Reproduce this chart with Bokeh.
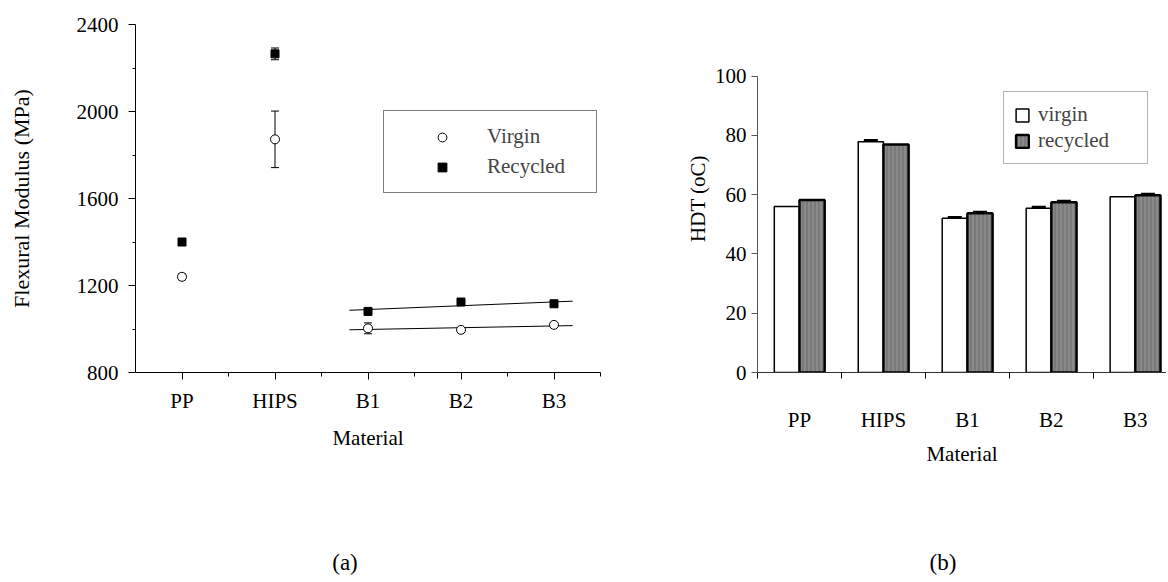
import numpy as np
from bokeh.plotting import figure
from bokeh.models import (ColumnDataSource, Whisker, TeeHead, Legend, LegendItem,
                          FixedTicker, Range1d, Div, Spacer)
from bokeh.layouts import row, column
from bokeh.embed import file_html
from bokeh.resources import INLINE

# ---------------- data ----------------
materials = ["PP", "HIPS", "B1", "B2", "B3"]
captions = ["(a)", "(b)"]

# (a) Flexural modulus (MPa)
flex_virgin = [1240, 1872, 1003, 996, 1019]
flex_virgin_err = [14, 130, 25, 0, 0]
flex_recycled = [1400, 2265, 1081, 1124, 1116]
flex_recycled_err = [0, 27, 0, 0, 0]
flex_ticks = [800, 1200, 1600, 2000, 2400]

# (b) HDT (oC)
hdt_virgin = [56.0, 77.8, 52.0, 55.4, 59.3]
hdt_virgin_err = [0, 0.5, 0.4, 0.4, 0]
hdt_recycled = [58.2, 76.9, 53.7, 57.4, 59.8]
hdt_recycled_err = [0, 0, 0.4, 0.4, 0.4]
hdt_ticks = [0, 20, 40, 60, 80, 100]

# ---------------- layout constants (pixels) ----------------
FONT = "Liberation Serif"
FIG_H = 550
TOP = 24            # frame top
FRAME_H = 348       # frame height (both panels share it)
BOTTOM = FIG_H - TOP - FRAME_H
W1, L1, FW1 = 640, 135, 465          # left figure width, left border, frame width
W2, L2 = 526, 117                    # right figure width, left border
FW2 = W2 - L2
CAT_PX2 = 83.96                      # px per category in panel (b)
HDT_AXIS_PX = 296.5                  # px length of the 0..100 axis in panel (b)
CAP_H = 28
CAP_W = 100
CAP_CX = [345, 943]                  # caption centres

idx = list(range(len(materials)))


def style_axes(p, size_ticks, size_label):
    for ax in (p.xaxis[0], p.yaxis[0]):
        ax.major_label_text_font = FONT
        ax.major_label_text_font_size = size_ticks
        ax.major_label_text_color = "black"
        ax.axis_label_text_font = FONT
        ax.axis_label_text_font_size = size_label
        ax.axis_label_text_font_style = "normal"
        ax.axis_label_text_color = "black"
        ax.axis_line_color = "black"
        ax.major_tick_line_color = "black"
        ax.minor_tick_line_color = "black"
        ax.major_tick_in = 0
        ax.minor_tick_in = 0
    p.grid.visible = False
    p.outline_line_color = None
    p.background_fill_color = "white"
    p.border_fill_color = "white"


# ---------------- (a) ----------------
x1_lo, x1_hi = -0.5, 4.5
p1 = figure(width=W1, height=FIG_H, x_range=Range1d(x1_lo, x1_hi),
            y_range=Range1d(flex_ticks[0], flex_ticks[-1]),
            output_backend="svg", toolbar_location=None,
            min_border_left=L1, min_border_right=W1 - L1 - FW1,
            min_border_top=TOP, min_border_bottom=BOTTOM)
style_axes(p1, "21px", "21px")
p1.xaxis.ticker = FixedTicker(ticks=idx, minor_ticks=[i + 0.5 for i in idx])
p1.xaxis.major_label_overrides = {i: m for i, m in enumerate(materials)}
p1.xaxis.axis_label = "Material"
p1.xaxis.major_tick_out = 7
p1.xaxis.minor_tick_out = 4
p1.xaxis.major_label_standoff = 9
p1.xaxis.axis_label_standoff = 10
mid = [(a + b) / 2 for a, b in zip(flex_ticks[:-1], flex_ticks[1:])]
p1.yaxis.ticker = FixedTicker(ticks=flex_ticks, minor_ticks=mid)
p1.yaxis.axis_label = "Flexural Modulus (MPa)"
p1.yaxis.axis_label_text_font_size = "22px"
p1.yaxis.major_tick_out = 7
p1.yaxis.minor_tick_out = 3
p1.yaxis.major_label_standoff = 10
p1.yaxis.axis_label_standoff = 40


def err_source(vals, errs, off=0.0):
    xs = [i for i, e in zip(idx, errs) if e > 0]
    return ColumnDataSource(dict(
        x=[i + off for i in xs],
        upper=[vals[i] + errs[i] for i in xs],
        lower=[vals[i] - errs[i] for i in xs]))


for vals, errs in ((flex_virgin, flex_virgin_err), (flex_recycled, flex_recycled_err)):
    w = Whisker(base="x", upper="upper", lower="lower", source=err_source(vals, errs),
                line_color="black", line_width=1, level="underlay",
                upper_head=TeeHead(size=8, line_color="black", line_width=1),
                lower_head=TeeHead(size=8, line_color="black", line_width=1))
    p1.add_layout(w)

# linear trend lines over the blends B1..B3
blend_x = np.array(idx[2:], dtype=float)
TREND_EXT = 0.2
tx = [blend_x[0] - TREND_EXT, blend_x[-1] + TREND_EXT]
for vals in (flex_recycled, flex_virgin):
    k, b = np.polyfit(blend_x, np.array(vals[2:], dtype=float), 1)
    p1.line(tx, [k * t + b for t in tx], line_color="black", line_width=1)

rv = p1.scatter(idx, flex_virgin, marker="circle", size=9, fill_color="white",
                line_color="black", line_width=1)
rr = p1.scatter(idx, flex_recycled, marker="square", size=8, fill_color="black",
                line_color="black", line_width=1)

leg1 = Legend(items=[LegendItem(label="Virgin", renderers=[rv]),
                     LegendItem(label="Recycled", renderers=[rr])],
              location=(248, 179), orientation="vertical",
              padding=13, spacing=5, margin=0,
              glyph_width=90, glyph_height=22, label_height=22, label_width=96,
              label_standoff=0,
              label_text_font=FONT, label_text_font_size="21px",
              border_line_color="black", border_line_width=1,
              background_fill_color="white", background_fill_alpha=1)
p1.add_layout(leg1, "center")

# ---------------- (b) ----------------
x2_hi = FW2 / CAT_PX2
y2_hi = hdt_ticks[-1] * FRAME_H / HDT_AXIS_PX
p2 = figure(width=W2, height=FIG_H, x_range=Range1d(0, x2_hi),
            y_range=Range1d(hdt_ticks[0], y2_hi),
            output_backend="svg", toolbar_location=None,
            min_border_left=L2, min_border_right=0,
            min_border_top=TOP, min_border_bottom=BOTTOM)
style_axes(p2, "21px", "21px")
p2.xaxis.ticker = FixedTicker(ticks=[i + 0.5 for i in idx], minor_ticks=idx)
p2.xaxis.major_label_overrides = {i + 0.5: m for i, m in enumerate(materials)}
p2.xaxis.axis_label = "Material"
p2.xaxis.major_tick_out = 0
p2.xaxis.minor_tick_out = 6
p2.xaxis.major_label_standoff = 29
p2.xaxis.axis_label_standoff = 7
p2.xaxis.axis_line_color = "#333333"
p2.yaxis.ticker = FixedTicker(ticks=hdt_ticks)
p2.yaxis.bounds = (hdt_ticks[0], hdt_ticks[-1])
p2.yaxis.axis_label = "HDT (oC)"
p2.yaxis.major_tick_out = 6
p2.yaxis.major_label_standoff = 5
p2.yaxis.axis_label_standoff = 2
p2.yaxis.axis_line_color = "#555555"
p2.yaxis.major_tick_line_color = "#555555"

BAR_W = 0.3
src_b = ColumnDataSource(dict(
    xv=[i + 0.5 - BAR_W / 2 for i in idx],
    xr=[i + 0.5 + BAR_W / 2 for i in idx],
    v=hdt_virgin, r=hdt_recycled))
bv = p2.vbar(x="xv", top="v", width=BAR_W, source=src_b, fill_color="white",
             line_color="black", line_width=1.5)
br = p2.vbar(x="xr", top="r", width=BAR_W, source=src_b, fill_color="#8a8a8a",
             line_color="black", line_width=2.5,
             hatch_pattern="vertical_line", hatch_color="#4a4a4a",
             hatch_alpha=0.55, hatch_scale=4, hatch_weight=1)

for vals, errs, off in ((hdt_virgin, hdt_virgin_err, 0.5 - BAR_W / 2),
                        (hdt_recycled, hdt_recycled_err, 0.5 + BAR_W / 2)):
    w = Whisker(base="x", upper="upper", lower="lower",
                source=err_source(vals, errs, off),
                line_color="black", line_width=2,
                upper_head=TeeHead(size=14, line_color="black", line_width=2.5),
                lower_head=TeeHead(size=14, line_color="black", line_width=2.5))
    p2.add_layout(w)

leg2 = Legend(items=[LegendItem(label="virgin", renderers=[bv]),
                     LegendItem(label="recycled", renderers=[br])],
              location=(246, 208), orientation="vertical",
              padding=10, spacing=1, margin=0,
              glyph_width=16, glyph_height=16, label_height=21, label_width=99,
              label_standoff=8,
              label_text_font=FONT, label_text_font_size="21px",
              border_line_color="#666666", border_line_width=1,
              background_fill_color="white", background_fill_alpha=1)
p2.add_layout(leg2, "center")

# ---------------- captions ----------------
cap_style = {"font-family": FONT, "font-size": "23px", "text-align": "center",
             "color": "black", "line-height": "26px"}
cap_divs = [Div(text=t, width=CAP_W, height=CAP_H, margin=0, styles=cap_style)
            for t in captions]
gap1 = CAP_CX[0] - CAP_W // 2
gap2 = CAP_CX[1] - CAP_CX[0] - CAP_W
caps = row(Spacer(width=gap1, height=CAP_H, margin=0), cap_divs[0],
           Spacer(width=gap2, height=CAP_H, margin=0), cap_divs[1])

layout = column(row(p1, p2), caps)
open("out.html", "w").write(file_html(layout, INLINE))
